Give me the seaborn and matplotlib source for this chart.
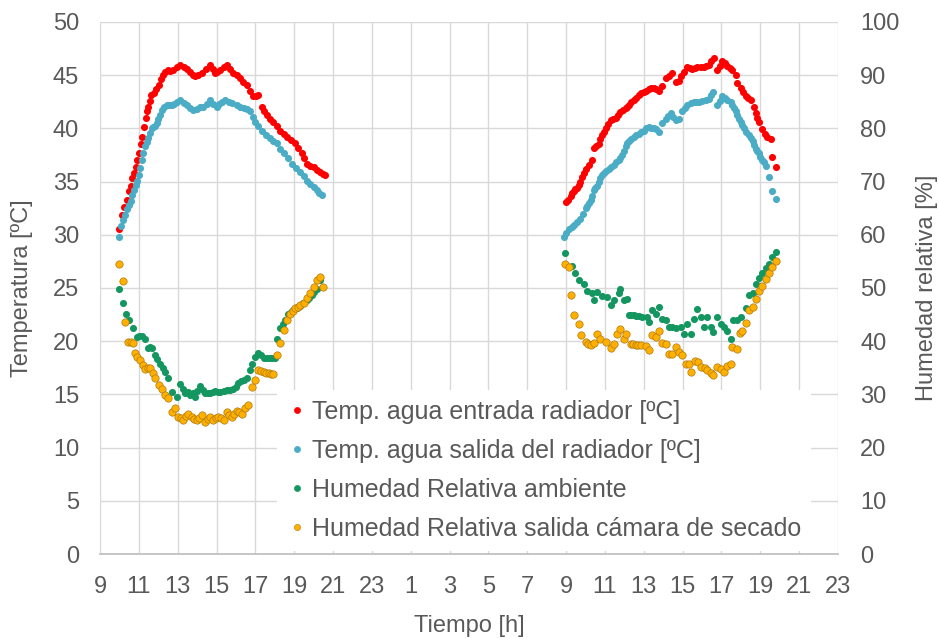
import numpy as np
import pandas as pd
import matplotlib
matplotlib.use("Agg")
import matplotlib.pyplot as plt
import seaborn as sns
from matplotlib.lines import Line2D

# ---- datos (hora del dia, valor) ----
# dia 1
hora_ent_d1 = [10.00, 10.12, 10.25, 10.38, 10.50, 10.58, 10.67, 10.75, 10.84, 10.93, 11.03, 11.10, 11.16, 11.25,
               11.35, 11.42, 11.49, 11.56, 11.63, 11.78, 11.90, 12.02, 12.12, 12.23, 12.35, 12.50, 12.63, 12.77,
               12.95, 13.12, 13.30, 13.47, 13.65, 13.80, 13.90, 14.07, 14.24, 14.45, 14.67, 14.80, 14.92, 15.05,
               15.19, 15.36, 15.53, 15.70, 15.87, 16.03, 16.20, 16.38, 16.56, 16.73, 16.90, 17.03, 17.16, 17.33,
               17.47, 17.60, 17.76, 17.93, 18.10, 18.28, 18.45, 18.62, 18.83, 19.05, 19.22, 19.40, 19.52, 19.65,
               19.82, 20.00, 20.17, 20.34, 20.47, 20.60]
temp_ent_d1 = [30.5, 31.9, 32.6, 33.3, 34.1, 34.6, 35.3, 35.8, 36.4, 37.0, 37.7, 38.5, 39.2, 40.1,
               41.0, 41.6, 42.0, 42.6, 43.1, 43.3, 43.7, 44.1, 44.6, 45.0, 45.3, 45.5, 45.4, 45.5,
               45.8, 46.0, 45.8, 45.6, 45.3, 45.0, 44.9, 45.0, 45.2, 45.6, 46.0, 45.6, 45.2, 45.3,
               45.5, 45.8, 46.0, 45.6, 45.2, 45.0, 44.7, 44.4, 44.1, 43.5, 43.0, 43.0, 43.1, 42.0,
               41.6, 41.3, 40.9, 40.6, 40.2, 39.8, 39.5, 39.2, 38.9, 38.6, 38.2, 37.7, 37.2, 36.7,
               36.5, 36.4, 36.1, 35.9, 35.7, 35.6]

hora_sal_d1 = [10.00, 10.08, 10.18, 10.29, 10.40, 10.50, 10.58, 10.66, 10.75, 10.84, 10.92, 11.00, 11.07, 11.14,
               11.23, 11.32, 11.40, 11.49, 11.58, 11.66, 11.75, 11.84, 11.92, 12.00, 12.09, 12.18, 12.30, 12.43,
               12.57, 12.70, 12.82, 12.95, 13.12, 13.30, 13.47, 13.63, 13.80, 13.97, 14.15, 14.32, 14.50, 14.67,
               14.83, 15.00, 15.15, 15.30, 15.44, 15.62, 15.79, 16.05, 16.22, 16.40, 16.56, 16.73, 16.87, 17.00,
               17.16, 17.33, 17.55, 17.76, 17.93, 18.10, 18.28, 18.45, 18.68, 18.90, 19.10, 19.30, 19.48, 19.65,
               19.82, 20.00, 20.17, 20.30, 20.43]
temp_sal_d1 = [29.8, 30.8, 31.4, 31.9, 32.4, 32.8, 33.2, 33.7, 34.2, 34.7, 35.1, 35.6, 36.3, 37.0,
               37.7, 38.3, 38.7, 39.1, 39.6, 40.0, 40.1, 40.2, 40.5, 40.9, 41.3, 41.7, 42.0, 42.2,
               42.2, 42.2, 42.3, 42.5, 42.7, 42.4, 42.2, 41.9, 41.7, 41.8, 42.0, 42.0, 42.3, 42.7,
               42.3, 42.0, 42.3, 42.5, 42.7, 42.5, 42.4, 42.2, 42.0, 41.9, 41.8, 41.6, 41.1, 40.6,
               40.2, 39.8, 39.4, 39.1, 38.8, 38.6, 38.1, 37.7, 37.2, 36.7, 36.3, 35.9, 35.5, 35.1,
               34.8, 34.5, 34.2, 33.9, 33.7]

hora_amb_d1 = [10.00, 10.17, 10.34, 10.51, 10.68, 10.89, 11.02, 11.15, 11.32, 11.49, 11.58, 11.66, 11.84, 11.96,
               12.09, 12.22, 12.35, 12.52, 12.70, 12.95, 13.12, 13.25, 13.38, 13.51, 13.64, 13.77, 13.90, 14.02,
               14.15, 14.28, 14.41, 14.54, 14.67, 14.80, 14.93, 15.06, 15.19, 15.36, 15.53, 15.70, 15.87, 16.00,
               16.13, 16.26, 16.39, 16.56, 16.70, 16.82, 17.00, 17.16, 17.29, 17.42, 17.59, 17.76, 17.88, 18.00,
               18.10, 18.28, 18.40, 18.54, 18.70, 18.83, 18.96, 19.13, 19.30, 19.47, 19.65, 19.77, 19.90, 20.03,
               20.17, 20.34]
hum_amb_d1 = [49.9, 47.2, 45.2, 44.0, 42.5, 40.7, 40.9, 41.0, 40.5, 38.8, 38.9, 38.7, 37.4, 36.6,
              35.8, 35.0, 34.3, 33.0, 30.5, 29.6, 32.0, 31.0, 30.2, 30.4, 29.9, 30.3, 29.6, 30.6,
              31.6, 30.8, 30.2, 30.3, 30.2, 30.5, 30.7, 30.4, 30.5, 30.7, 30.8, 30.9, 31.1, 31.4,
              32.1, 32.5, 32.7, 33.0, 34.6, 35.8, 37.1, 37.8, 37.5, 36.8, 36.8, 36.8, 36.8, 36.8,
              40.5, 42.4, 43.3, 44.0, 45.2, 45.5, 45.9, 46.2, 46.6, 47.1, 47.7, 48.2, 48.7, 49.3,
              49.9, 51.5]

hora_cam_d1 = [10.00, 10.17, 10.29, 10.46, 10.58, 10.68, 10.80, 10.93, 11.06, 11.19, 11.32, 11.45, 11.58, 11.71,
               11.84, 12.04, 12.18, 12.35, 12.52, 12.70, 12.87, 13.04, 13.17, 13.29, 13.42, 13.55, 13.73, 13.86,
               13.98, 14.11, 14.24, 14.41, 14.54, 14.67, 14.84, 14.97, 15.10, 15.23, 15.36, 15.53, 15.66, 15.79,
               15.92, 16.05, 16.17, 16.30, 16.47, 16.64, 16.82, 17.00, 17.16, 17.29, 17.42, 17.55, 17.68, 17.80,
               17.93, 18.10, 18.28, 18.48, 18.62, 18.80, 18.92, 19.05, 19.18, 19.30, 19.48, 19.65, 19.82, 20.00,
               20.17, 20.34, 20.48]
hum_cam_d1 = [54.5, 51.4, 43.7, 39.9, 39.8, 39.6, 37.7, 37.0, 36.5, 35.6, 34.7, 34.9, 35.0, 34.0,
              33.0, 31.8, 31.1, 29.8, 29.3, 26.6, 27.4, 25.8, 25.5, 25.2, 25.9, 26.4, 25.8, 25.4,
              25.2, 25.6, 26.1, 24.9, 25.4, 25.8, 25.2, 25.5, 25.8, 25.5, 25.2, 26.6, 26.2, 25.8,
              26.3, 26.8, 26.6, 26.4, 27.4, 28.0, 31.4, 32.8, 34.6, 34.4, 34.3, 34.1, 34.0, 33.9,
              33.8, 37.4, 39.6, 42.1, 44.0, 45.2, 45.7, 46.2, 46.5, 46.8, 47.2, 48.1, 49.0, 50.2,
              51.5, 52.1, 50.2]

# dia 2
hora_ent_d2 = [8.97, 9.10, 9.23, 9.32, 9.40, 9.48, 9.57, 9.66, 9.74, 9.82, 9.91, 10.04, 10.17, 10.34,
               10.43, 10.56, 10.69, 10.77, 10.86, 10.94, 11.03, 11.16, 11.29, 11.42, 11.55, 11.68, 11.80, 11.93,
               12.06, 12.14, 12.23, 12.36, 12.49, 12.62, 12.75, 12.88, 13.00, 13.13, 13.26, 13.39, 13.52, 13.65,
               13.78, 13.95, 14.12, 14.30, 14.47, 14.64, 14.81, 14.94, 15.07, 15.24, 15.37, 15.50, 15.63, 15.76,
               15.93, 16.10, 16.23, 16.36, 16.48, 16.61, 16.79, 16.92, 17.04, 17.17, 17.30, 17.43, 17.56, 17.73,
               17.82, 17.99, 18.12, 18.25, 18.38, 18.51, 18.68, 18.76, 18.85, 18.93, 19.10, 19.23, 19.36, 19.54,
               19.62, 19.79]
temp_ent_d2 = [33.1, 33.3, 33.6, 33.9, 34.1, 34.3, 34.4, 34.7, 35.0, 35.4, 35.8, 36.2, 36.6, 37.0,
               38.2, 38.3, 38.5, 39.0, 39.4, 39.7, 40.0, 40.4, 40.8, 40.9, 41.0, 41.3, 41.5, 41.7,
               41.9, 42.0, 42.2, 42.5, 42.7, 42.9, 43.1, 43.3, 43.4, 43.5, 43.7, 43.8, 43.8, 43.7,
               43.5, 44.0, 44.7, 44.9, 45.2, 44.4, 44.5, 44.9, 45.3, 45.8, 45.7, 45.6, 45.7, 45.8,
               45.8, 45.8, 45.9, 46.0, 46.3, 46.6, 45.5, 45.9, 46.3, 46.1, 45.9, 45.7, 45.5, 45.0,
               44.3, 43.8, 43.4, 43.0, 42.9, 42.7, 42.0, 41.4, 41.0, 40.6, 39.9, 39.5, 39.2, 39.0,
               37.3, 36.4]

hora_sal_d2 = [8.90, 9.02, 9.15, 9.28, 9.40, 9.57, 9.74, 9.87, 10.00, 10.09, 10.17, 10.26, 10.34, 10.43,
               10.51, 10.60, 10.69, 10.77, 10.86, 10.94, 11.07, 11.20, 11.33, 11.46, 11.59, 11.72, 11.80, 11.89,
               11.97, 12.06, 12.14, 12.23, 12.36, 12.49, 12.62, 12.75, 12.88, 13.00, 13.13, 13.26, 13.39, 13.52,
               13.65, 13.78, 13.95, 14.12, 14.25, 14.38, 14.51, 14.64, 14.81, 14.98, 15.11, 15.24, 15.41, 15.58,
               15.71, 15.84, 16.01, 16.18, 16.36, 16.47, 16.58, 16.75, 16.90, 17.04, 17.17, 17.30, 17.47, 17.56,
               17.65, 17.74, 17.82, 17.90, 17.99, 18.08, 18.16, 18.29, 18.42, 18.51, 18.60, 18.68, 18.76, 18.85,
               18.93, 19.01, 19.10, 19.19, 19.28, 19.45, 19.62, 19.79]
temp_sal_d2 = [29.8, 30.2, 30.5, 30.7, 30.9, 31.2, 31.5, 32.0, 32.5, 32.7, 33.0, 33.3, 33.6, 34.2,
               34.4, 34.6, 35.0, 35.3, 35.6, 35.8, 36.0, 36.2, 36.4, 36.6, 36.8, 37.0, 37.2, 37.5,
               37.9, 38.3, 38.6, 38.8, 39.0, 39.2, 39.4, 39.5, 39.7, 39.8, 40.0, 40.1, 40.0, 40.0,
               39.9, 39.7, 40.5, 40.9, 41.2, 41.4, 41.1, 40.8, 40.9, 41.6, 41.9, 42.2, 42.4, 42.5,
               42.5, 42.5, 42.6, 42.7, 42.8, 43.1, 43.4, 42.2, 42.6, 43.0, 42.9, 42.7, 42.5, 42.2,
               41.9, 41.6, 41.3, 40.9, 40.6, 40.3, 40.0, 39.7, 39.4, 39.1, 38.8, 38.4, 38.1, 37.9,
               37.7, 37.3, 37.0, 36.8, 36.5, 35.4, 34.1, 33.4]

hora_amb_d2 = [8.92, 9.31, 9.48, 9.66, 9.91, 10.09, 10.35, 10.43, 10.60, 10.86, 11.12, 11.29, 11.46, 11.72,
               11.80, 11.97, 12.15, 12.23, 12.36, 12.49, 12.62, 12.75, 12.92, 13.18, 13.26, 13.44, 13.61, 13.78,
               13.95, 14.12, 14.29, 14.47, 14.64, 14.90, 15.07, 15.24, 15.41, 15.58, 15.76, 15.93, 16.10, 16.27,
               16.44, 16.58, 16.79, 16.96, 17.13, 17.30, 17.47, 17.61, 17.82, 17.99, 18.25, 18.42, 18.60, 18.76,
               18.93, 19.10, 19.28, 19.45, 19.62, 19.79]
hum_amb_d2 = [56.5, 54.1, 52.8, 51.5, 50.8, 49.5, 49.0, 47.7, 49.3, 48.5, 48.3, 46.8, 47.7, 49.0,
              49.9, 47.7, 47.9, 44.9, 44.9, 44.9, 44.8, 44.7, 44.5, 44.5, 43.7, 45.9, 45.1, 46.5,
              44.1, 44.0, 42.6, 42.7, 42.4, 42.7, 41.4, 43.2, 41.4, 44.1, 46.0, 44.5, 42.7, 44.5,
              42.6, 41.8, 44.5, 43.2, 42.6, 42.0, 40.5, 44.0, 44.0, 44.6, 46.2, 48.7, 49.1, 50.8,
              51.8, 52.8, 53.7, 54.6, 55.8, 56.8]

hora_cam_d2 = [8.92, 9.14, 9.26, 9.40, 9.66, 9.78, 10.00, 10.13, 10.26, 10.43, 10.60, 10.77, 11.03, 11.29,
               11.46, 11.63, 11.80, 11.97, 12.11, 12.32, 12.45, 12.58, 12.71, 12.84, 13.10, 13.26, 13.44, 13.61,
               13.78, 13.95, 14.12, 14.29, 14.47, 14.64, 14.81, 14.98, 15.15, 15.33, 15.45, 15.62, 15.79, 15.96,
               16.13, 16.27, 16.44, 16.58, 16.79, 16.96, 17.13, 17.30, 17.47, 17.56, 17.78, 17.95, 18.07, 18.25,
               18.42, 18.60, 18.76, 18.93, 19.10, 19.28, 19.45, 19.62, 19.79]
hum_cam_d2 = [54.6, 54.0, 48.7, 44.9, 43.2, 41.2, 39.9, 39.5, 39.3, 39.6, 41.4, 40.5, 39.9, 38.7,
              39.5, 41.4, 42.2, 40.4, 41.4, 39.5, 39.4, 39.3, 39.3, 39.3, 39.1, 38.3, 41.2, 40.8,
              42.0, 39.6, 39.5, 37.6, 37.6, 38.9, 37.9, 37.4, 35.8, 35.7, 34.3, 36.3, 36.0, 35.1,
              34.9, 34.6, 34.1, 33.6, 35.2, 34.7, 34.3, 35.3, 35.7, 38.9, 38.5, 41.5, 42.0, 43.5,
              45.9, 46.4, 47.9, 49.5, 50.4, 51.6, 52.9, 54.0, 55.0]

nombres = ["Temp. agua entrada radiador [ºC]", "Temp. agua salida del radiador [ºC]",
           "Humedad Relativa ambiente", "Humedad Relativa salida cámara de secado"]
colores = ["#ff0000", "#4bacc6", "#13965f", "#ffb000"]

horas_ticks = list(range(9, 48, 2))
horas_etiquetas = [str(h % 24) for h in horas_ticks]

# tiempo continuo: el dia 2 va 24 h despues
def serie(h1, v1, h2, v2):
    return pd.DataFrame({"t": list(h1) + [h + 24 for h in h2], "v": list(v1) + list(v2)})

df_ent = serie(hora_ent_d1, temp_ent_d1, hora_ent_d2, temp_ent_d2)
df_sal = serie(hora_sal_d1, temp_sal_d1, hora_sal_d2, temp_sal_d2)
df_amb = serie(hora_amb_d1, hum_amb_d1, hora_amb_d2, hum_amb_d2)
df_cam = serie(hora_cam_d1, hum_cam_d1, hora_cam_d2, hum_cam_d2)

sns.set_theme(style="white")
plt.rcParams["font.family"] = ["Liberation Sans", "DejaVu Sans"]
gris = "#595959"

fig = plt.figure(figsize=(9.39, 6.39), dpi=100)
ax = fig.add_axes([0.1065, 0.1330, 0.7859, 0.8326])
ax2 = ax.twinx()

sns.scatterplot(data=df_ent, x="t", y="v", ax=ax, color=colores[0], s=26, linewidth=0)
sns.scatterplot(data=df_sal, x="t", y="v", ax=ax, color=colores[1], s=26, linewidth=0)
sns.scatterplot(data=df_amb, x="t", y="v", ax=ax2, color=colores[2], s=26, linewidth=0)
sns.scatterplot(data=df_cam, x="t", y="v", ax=ax2, color=colores[3], s=28,
                edgecolor="#b07a10", linewidth=0.5)

ax.set_xlim(9, 47)
ax.set_ylim(0, 50)
ax2.set_ylim(0, 100)
ax.set_xticks(horas_ticks)
ax.set_xticklabels(horas_etiquetas)
ax.set_yticks(range(0, 51, 5))
ax2.set_yticks(range(0, 101, 10))

ax.grid(True, color="#d9d9d9", linewidth=1)
ax2.grid(False)
for a in (ax, ax2):
    for s in a.spines.values():
        s.set_visible(False)
ax.spines["bottom"].set_visible(True)
ax.spines["bottom"].set_color("#bfbfbf")
ax.tick_params(axis="both", length=0, labelsize=17, colors=gris)
ax.tick_params(axis="x", pad=16)
ax.tick_params(axis="y", pad=15)
ax2.tick_params(axis="y", length=0, labelsize=17, colors=gris, pad=16)

ax.set_xlabel("Tiempo [h]", fontsize=17, color=gris, labelpad=12)
ax.set_ylabel("Temperatura [ºC]", fontsize=17, color=gris, labelpad=14)
ax2.set_ylabel("Humedad relativa [%]", fontsize=17, color=gris, labelpad=12)

handles = [Line2D([], [], marker="o", linestyle="", markersize=4.5, color=c,
                  markeredgecolor=("#b07a10" if i == 3 else c), markeredgewidth=0.4)
           for i, c in enumerate(colores)]
leg = ax2.legend(handles, nombres, loc="upper left", bbox_to_anchor=(0.2398, 0.308),
                 borderaxespad=0, fontsize=18, labelcolor=gris, frameon=True, facecolor="white",
                 edgecolor="none", framealpha=1, handletextpad=0.2, labelspacing=0.6,
                 borderpad=0.4, handlelength=0.8)

fig.savefig("out.png", dpi=100)
